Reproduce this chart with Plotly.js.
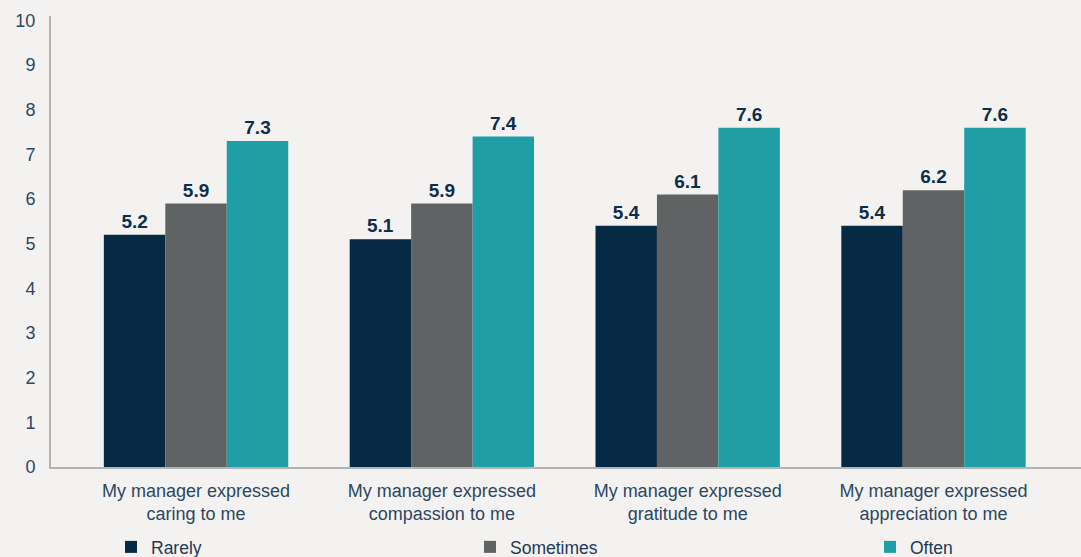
<!DOCTYPE html>
<html>
<head>
<meta charset="utf-8">
<script src="https://cdn.plot.ly/plotly-3.0.1.min.js"></script>
<style>html,body{margin:0;padding:0;background:#f4f2f0;}#chart{width:1081px;height:557px;}</style>
</head>
<body>
<div id="chart"></div>
<script>
const categories = [
  "My manager expressed<br>caring to me",
  "My manager expressed<br>compassion to me",
  "My manager expressed<br>gratitude to me",
  "My manager expressed<br>appreciation to me"
];
const seriesNames = ["Rarely", "Sometimes", "Often"];
const rarely = [5.2, 5.1, 5.4, 5.4];
const sometimes = [5.9, 5.9, 6.1, 6.2];
const often = [7.3, 7.4, 7.6, 7.6];
const yTicks = [0,1,2,3,4,5,6,7,8,9,10];

const colors = ["#062944", "#606364", "#1f9ea6"];
const values = [rarely, sometimes, often];
const legendIds = ["legend", "legend2", "legend3"];

const traces = values.map((v, i) => ({
  type: "bar",
  name: seriesNames[i],
  x: categories,
  y: v,
  text: v.map(d => d.toFixed(1)),
  textposition: "outside",
  cliponaxis: false,
  textfont: {family: "Liberation Sans, Arial, sans-serif", size: 19, color: "#0e2d4a", weight: "bold"},
  marker: {color: colors[i]},
  legend: legendIds[i],
  hoverinfo: "skip"
}));

const legendFont = {family: "Liberation Sans, Arial, sans-serif", size: 17.5, color: "#1d3a57"};
function mkLegend(xpx) {
  return {
    orientation: "h",
    xref: "container",
    yref: "container",
    x: xpx / 1081,
    xanchor: "left",
    y: (557 - 547) / 557,
    yanchor: "middle",
    bgcolor: "rgba(0,0,0,0)",
    font: legendFont
  };
}

const layout = {
  width: 1081,
  height: 557,
  margin: {l: 51, r: 0, t: 16, b: 90, autoexpand: false},
  paper_bgcolor: "#f4f2f0",
  plot_bgcolor: "#f4f2f0",
  barmode: "group",
  bargap: 0.25,
  bargroupgap: 0,
  showlegend: true,
  legend: mkLegend(111),
  legend2: mkLegend(470),
  legend3: mkLegend(870),
  font: {family: "Liberation Sans, Arial, sans-serif", size: 18, color: "#2b4763"},
  xaxis: {
    type: "category",
    range: [-0.59, 3.6],
    showline: true,
    linecolor: "#b3b3b3",
    linewidth: 2,
    showgrid: false,
    ticks: "",
    ticklabelstandoff: 6,
    tickfont: {size: 18, color: "#2b4763"},
    fixedrange: true
  },
  yaxis: {
    range: [0, 10.1],
    tickvals: yTicks,
    ticktext: yTicks.map(String),
    showline: true,
    linecolor: "#b3b3b3",
    linewidth: 2,
    showgrid: false,
    zeroline: false,
    ticks: "",
    ticklabelstandoff: 10,
    tickfont: {size: 18, color: "#2b4763"},
    fixedrange: true
  }
};

Plotly.newPlot("chart", traces, layout, {displayModeBar: false, staticPlot: true});
</script>
</body>
</html>
